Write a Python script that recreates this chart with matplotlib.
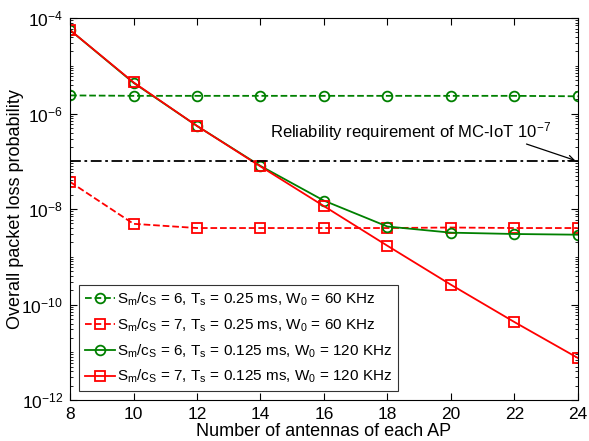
import matplotlib
matplotlib.use("Agg")
import matplotlib.pyplot as plt
import numpy as np
from matplotlib.ticker import FixedLocator, LogLocator, NullFormatter

plt.rcParams['font.family'] = ['Liberation Sans', 'DejaVu Sans']
plt.rcParams['mathtext.default'] = 'regular'

antennas = [8, 10, 12, 14, 16, 18, 20, 22, 24]
g_dash = [2.4e-6, 2.35e-6, 2.35e-6, 2.35e-6, 2.35e-6, 2.35e-6, 2.35e-6, 2.35e-6, 2.3e-6]
r_dash = [3.7e-8, 4.9e-9, 4.0e-9, 4.0e-9, 4.0e-9, 4.0e-9, 4.1e-9, 4.0e-9, 4.0e-9]
g_solid = [5.6e-5, 4.4e-6, 5.5e-7, 8.0e-8, 1.5e-8, 4.3e-9, 3.2e-9, 3.0e-9, 2.9e-9]
r_solid = [5.6e-5, 4.5e-6, 5.5e-7, 7.8e-8, 1.15e-8, 1.7e-9, 2.6e-10, 4.3e-11, 7.6e-12]
labels = [
    r'$S_m/c_S$ = 6, $T_s$ = 0.25 ms, $W_0$ = 60 KHz',
    r'$S_m/c_S$ = 7, $T_s$ = 0.25 ms, $W_0$ = 60 KHz',
    r'$S_m/c_S$ = 6, $T_s$ = 0.125 ms, $W_0$ = 120 KHz',
    r'$S_m/c_S$ = 7, $T_s$ = 0.125 ms, $W_0$ = 120 KHz',
]
requirement = 1e-7

green = '#008000'
fig = plt.figure(figsize=(5.89, 4.41), dpi=100)
ax = fig.add_axes([0.119, 0.093, 0.862, 0.866])

ax.semilogy(antennas, g_dash, '--o', color=green, lw=1.3, ms=7, mfc='none', mew=1.3, label=labels[0])
ax.semilogy(antennas, r_dash, '--s', color='r', lw=1.3, ms=6.5, mfc='none', mew=1.3, label=labels[1])
ax.semilogy(antennas, g_solid, '-o', color=green, lw=1.3, ms=7, mfc='none', mew=1.3, label=labels[2])
ax.semilogy(antennas, r_solid, '-s', color='r', lw=1.3, ms=6.5, mfc='none', mew=1.3, label=labels[3])
ax.plot([antennas[0], antennas[-1]], [requirement, requirement], color='k', ls=(0, (6, 2, 1.5, 2)), lw=1.3)

ax.annotate('', xy=(24, requirement), xytext=(22.3, 2.4e-7),
            arrowprops=dict(arrowstyle='->', color='k', lw=0.9))
ax.text(14.3, 4.3e-7, r'Reliability requirement of MC-IoT $10^{-7}$', fontsize=12, va='center')

ax.set_xlim(8, 24)
ax.set_ylim(1e-12, 1e-4)
ax.set_xticks(antennas)
ax.yaxis.set_major_locator(FixedLocator([1e-12, 1e-10, 1e-8, 1e-6, 1e-4]))
ax.yaxis.set_minor_locator(LogLocator(base=10, subs=np.arange(1, 10), numticks=100))
ax.yaxis.set_minor_formatter(NullFormatter())
ax.tick_params(which='both', direction='in', top=True, right=True, labelsize=12.5)
ax.tick_params(which='major', length=5, pad=5)
ax.tick_params(which='minor', length=2.5)
for s in ax.spines.values():
    s.set_linewidth(0.8)

ax.set_xlabel('Number of antennas of each AP', fontsize=13, labelpad=1)
ax.set_ylabel('Overall packet loss probability', fontsize=13, labelpad=-2)

leg = ax.legend(loc='lower left', fontsize=11, frameon=True, fancybox=False,
                edgecolor='k', handlelength=2.0, borderaxespad=0.6, handletextpad=0.15,
                labelspacing=0.55, borderpad=0.35)
leg.get_frame().set_linewidth(0.8)

fig.savefig('out.png', dpi=100)
